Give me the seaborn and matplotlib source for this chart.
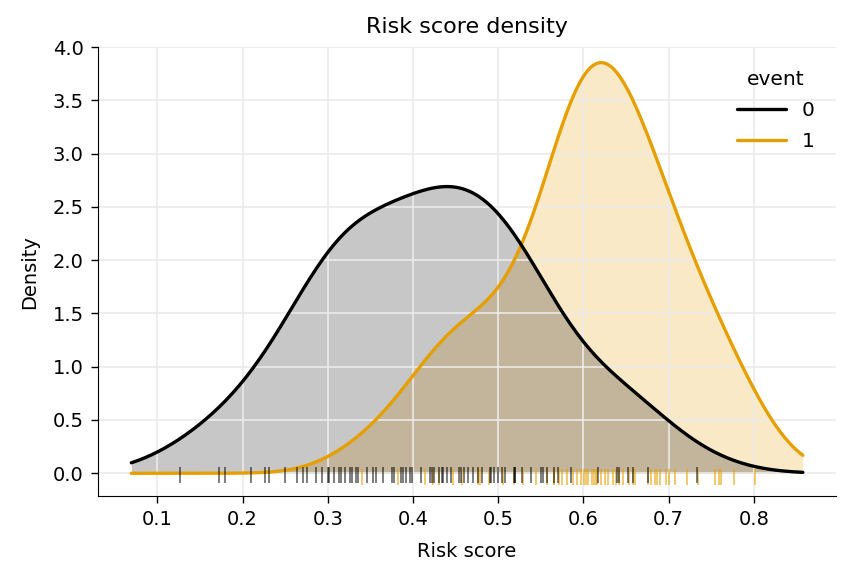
import pandas as pd
import seaborn as sns
import matplotlib.pyplot as plt

# risk scores (overlapping marks counted more than once)
score_event0 = [0.126, 0.172, 0.179, 0.210, 0.226, 0.231, 0.250, 0.264, 0.271,
                0.276, 0.286, 0.293, 0.300, 0.302, 0.307, 0.313, 0.315, 0.320,
                0.326, 0.329, 0.333, 0.336, 0.346, 0.353, 0.357, 0.365, 0.375, 0.378,
                0.386, 0.388, 0.392, 0.396, 0.399, 0.410, 0.420, 0.422, 0.425, 0.430,
                0.434, 0.435, 0.440, 0.445, 0.454, 0.456, 0.460, 0.464, 0.470, 0.476,
                0.481, 0.490, 0.491, 0.495, 0.500, 0.504, 0.508, 0.518, 0.520, 0.520,
                0.528, 0.538, 0.550, 0.553, 0.557, 0.565, 0.570, 0.586, 0.617, 0.639,
                0.642, 0.652, 0.658, 0.676, 0.733]
score_event1 = [0.340, 0.383, 0.414, 0.424, 0.431, 0.447, 0.458, 0.476, 0.479, 0.489,
                0.506, 0.518, 0.529, 0.544, 0.557, 0.565, 0.566, 0.571, 0.575, 0.581,
                0.588, 0.593, 0.597, 0.601, 0.603, 0.605, 0.610, 0.612, 0.615, 0.616,
                0.621, 0.625, 0.629, 0.635, 0.638, 0.642, 0.646, 0.654, 0.658, 0.661,
                0.676, 0.679, 0.684, 0.686, 0.690, 0.697, 0.700, 0.708, 0.722, 0.734,
                0.754, 0.759, 0.761, 0.777, 0.801]

palette = {0: '#000000', 1: '#E69F00'}

df = pd.DataFrame({
    'Risk score': score_event0 + score_event1,
    'event': [0] * len(score_event0) + [1] * len(score_event1),
})

sns.set_style('ticks')
plt.rcParams['font.family'] = ['DejaVu Sans']
plt.rcParams['text.color'] = 'black'
plt.rcParams['axes.labelcolor'] = 'black'
plt.rcParams['xtick.color'] = 'black'
plt.rcParams['ytick.color'] = 'black'
plt.rcParams['axes.edgecolor'] = 'black'

fig, ax = plt.subplots(figsize=(8.5, 5.81), dpi=100)
fig.subplots_adjust(left=0.115, right=0.984, top=0.919, bottom=0.146)
ax.grid(True, color='#ebebeb', linewidth=1.2)
ax.set_axisbelow('line')

kde_kw = dict(data=df, x='Risk score', hue='event', palette=palette,
              common_norm=False, common_grid=True, cut=1, ax=ax)
sns.kdeplot(**kde_kw, fill=True, alpha=0.22, linewidth=0, legend=False)
sns.kdeplot(**kde_kw, linewidth=2.4)

# rug marks just under the baseline
trans = ax.get_xaxis_transform()
ax.vlines(score_event1, 0.025, 0.060, transform=trans, colors=palette[1], alpha=0.6, linewidth=1.3)
ax.vlines(score_event0, 0.029, 0.065, transform=trans, colors=palette[0], alpha=0.55, linewidth=1.3)

ax.set_ylim(-0.215, 4.0)
ax.set_yticks([0, 0.5, 1, 1.5, 2, 2.5, 3, 3.5, 4])
ax.set_xticks([0.1, 0.2, 0.3, 0.4, 0.5, 0.6, 0.7, 0.8])
ax.tick_params(labelsize=14, length=5, width=1, pad=5)
ax.set_xlabel('Risk score', fontsize=14, labelpad=9)
ax.set_ylabel('Density', fontsize=14, labelpad=10)
ax.set_title('Risk score density', fontsize=16, pad=10)
sns.despine(ax=ax)
sns.move_legend(ax, 'upper right', bbox_to_anchor=(0.995, 0.99), frameon=False,
                fontsize=14.5, title_fontsize=14.5, handlelength=2.4, labelspacing=0.6,
                handletextpad=0.8)

plt.savefig('out.png', dpi=100)
